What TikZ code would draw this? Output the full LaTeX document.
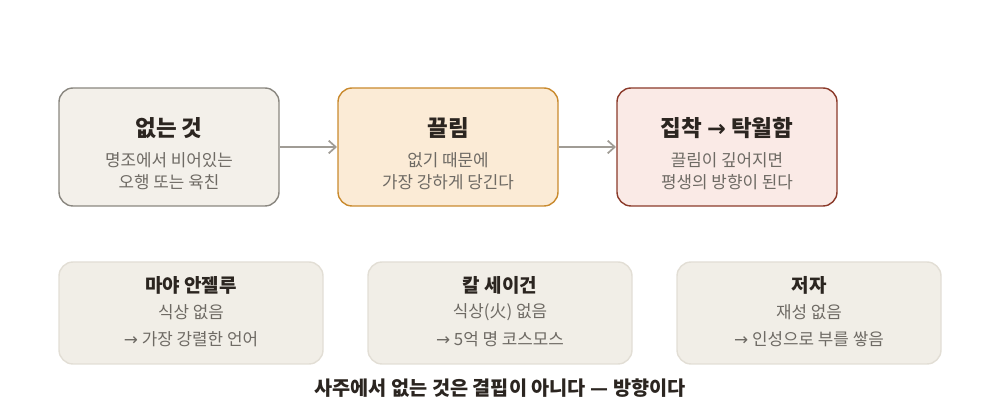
\documentclass[tikz,border=0pt]{standalone}
\usepackage{fontspec}
\usetikzlibrary{arrows.meta}
\setmainfont{Noto Sans CJK KR}
\newfontfamily\sym{DejaVu Sans}
\definecolor{tx}{HTML}{2B2520}
\definecolor{sub}{HTML}{6E6A64}
\definecolor{arr}{HTML}{A09C95}
\definecolor{f1}{HTML}{F3F0EA}\definecolor{s1}{HTML}{8A8780}
\definecolor{f2}{HTML}{FBEBD6}\definecolor{s2}{HTML}{C98A2E}
\definecolor{f3}{HTML}{FAEAE6}\definecolor{s3}{HTML}{8B3A2A}
\definecolor{fb}{HTML}{F1EEE7}\definecolor{sb}{HTML}{E2DED5}
\begin{document}
\begin{tikzpicture}[x=0.025cm,y=-0.025cm,
  box/.style={rounded corners=10pt,line width=1pt},
  ttl/.style={font=\fontsize{16}{18}\selectfont\bfseries,text=tx},
  st/.style={font=\fontsize{12}{16}\selectfont,text=sub,align=center},
  bt/.style={font=\fontsize{13.5}{15}\selectfont\bfseries,text=tx},
  ar/.style={draw=arr,line width=1.2pt,-{Straight Barb[length=5pt,width=9pt]}}]
\useasboundingbox (0,0) rectangle (1000,412);
\draw[box,draw=s1,fill=f1] (59,88) rectangle (279,206); \node (b1) at (169,147) {};
\draw[box,draw=s2,fill=f2] (338,88) rectangle (558,206); \node (b2) at (448,147) {};
\draw[box,draw=s3,fill=f3] (617,88) rectangle (837,206); \node (b3) at (727,147) {};
\coordinate (b1e) at (280,147); \coordinate (b2w) at (337,147);
\coordinate (b2e) at (559,147); \coordinate (b3w) at (616,147);
\draw[ar] (b1e) -- (b2w);
\draw[ar] (b2e) -- (b3w);
\node[ttl] (t1) at (169,128) {없는 것};
\node[st] (s1t) at (169,171) {명조에서 비어있는\\오행 또는 육친};
\node[ttl] (t2) at (448,128) {끌림};
\node[st] (s2t) at (448,171) {없기 때문에\\가장 강하게 당긴다};
\node[ttl] (t3) at (727,128) {집착 {\sym →} 탁월함};
\node[st] (s3t) at (727,171) {끌림이 깊어지면\\평생의 방향이 된다};
\foreach \x/\a/\b/\c in {59/마야 안젤루/식상 없음/가장 강렬한 언어, 368/칼 세이건/식상(火) 없음/5억 명 코스모스, 677/저자/재성 없음/인성으로 부를 쌓음}{
  \draw[box,draw=sb,fill=fb] (\x,262) rectangle (\x+264,364);
  \node[bt] (bt\x) at (\x+132,285) {\a};
  \node[st] (bs\x) at (\x+132,312) {\b};
  \node[st] (bc\x) at (\x+132,339) {{\sym →} \c};
}
\node[font=\fontsize{14}{16}\selectfont\bfseries,text=tx] (foot) at (500,388) {사주에서 없는 것은 결핍이 아니다 — 방향이다};
\end{tikzpicture}
\end{document}
